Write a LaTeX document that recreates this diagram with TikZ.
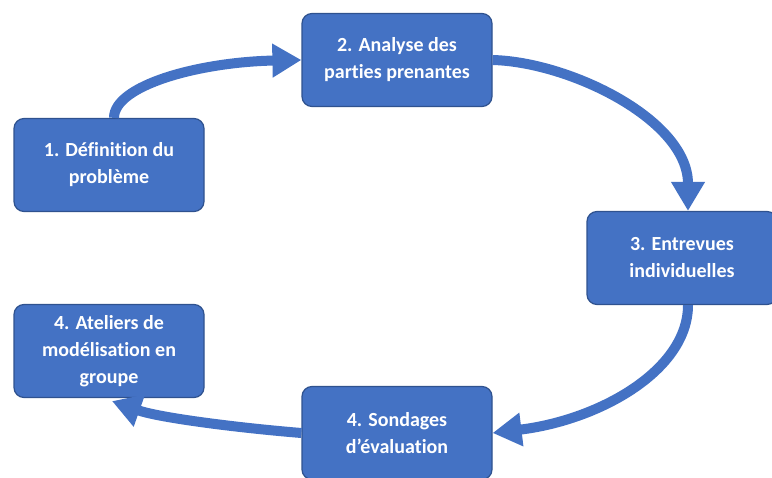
\documentclass[tikz,border=0pt]{standalone}
\usepackage{fontspec}
\setmainfont{Carlito}[Ligatures={NoCommon}]
\usetikzlibrary{arrows.meta}
\definecolor{stepblue}{HTML}{4472C4}
\definecolor{stepedge}{HTML}{2F528F}

\begin{document}
\begin{tikzpicture}[x=1pt,y=-1pt,
	stepbox/.style={draw=stepedge,line width=1.2pt,fill=stepblue,rounded corners=10pt,
		minimum width=190pt,minimum height=93pt,inner sep=0pt,text=white,align=center,
		font=\fontsize{20}{27}\selectfont\bfseries},
	flow/.style={draw=stepblue,line width=10pt,-{Triangle[length=29pt,width=32pt]}}]
	\useasboundingbox (0,0) rectangle (772,478);

	\node[stepbox] (1) at (109,165) {1. Définition du\\problème};
	\node[stepbox] (2) at (397,60) {2. Analyse des\\parties prenantes};
	\node[stepbox] (3) at (682,258) {3. Entrevues\\individuelles};
	\node[stepbox] (4) at (109,351) {4. Ateliers de\\modélisation en\\groupe};
	\node[stepbox] (5) at (397,433) {4. Sondages\\d’évaluation};

	\draw[flow] ([xshift=5pt]1.north) .. controls (114,85) and (200,62) .. (2.west);
	\draw[flow] (2.east) .. controls (570,62) and (688,120) .. ([xshift=6pt]3.north);
	\draw[flow] ([xshift=6pt]3.south) .. controls (688,370) and (600,420) .. (5.east);
	\draw[flow] (5.west) .. controls (240,428) and (160,418) .. ([xshift=3pt,yshift=-3pt]4.south);
\end{tikzpicture}
\end{document}
